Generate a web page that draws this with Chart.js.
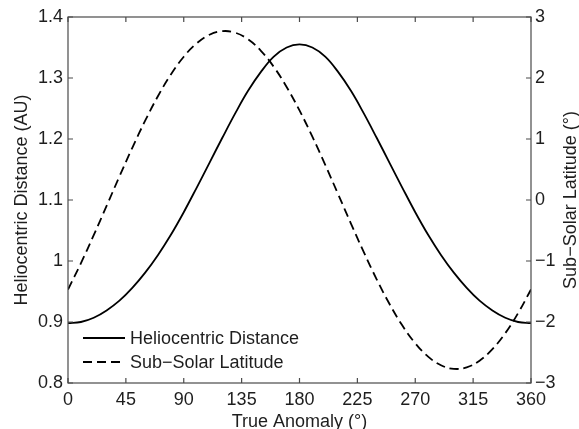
<!DOCTYPE html>
<html><head><meta charset="utf-8">
<script src="https://cdn.jsdelivr.net/npm/chart.js@4.4.1/dist/chart.umd.min.js"></script>
<style>html,body{margin:0;padding:0;background:#fff}#wrap{width:579px;height:429px;position:relative}</style>
</head><body><div id="wrap"><canvas id="c"></canvas></div>
<script>
// ---- data ----
const anomaly = [0,10,20,30,40,50,60,70,80,90,100,110,120,130,140,150,160,170,180,
                 190,200,210,220,230,240,250,260,270,280,290,300,310,320,330,340,350,360];
const distance = [0.898,0.900,0.907,0.919,0.935,0.956,0.981,1.010,1.043,1.080,1.120,1.161,1.202,1.242,1.279,1.310,1.335,1.350,1.355,
                  1.350,1.335,1.310,1.279,1.242,1.202,1.161,1.120,1.080,1.043,1.010,0.981,0.956,0.935,0.919,0.907,0.900,0.898];
const latitude = [-1.468,-1.038,-0.576,-0.097,0.386,0.856,1.300,1.705,2.059,2.349,2.568,2.709,2.768,2.743,2.634,2.446,2.183,1.853,1.468,
                  1.038,0.576,0.097,-0.386,-0.856,-1.300,-1.705,-2.059,-2.349,-2.568,-2.709,-2.768,-2.743,-2.634,-2.446,-2.183,-1.853,-1.468];
const xTicks = [0,45,90,135,180,225,270,315,360];
const xTickLabels = ['0','45','90','135','180','225','270','315','360'];
const leftTicks = [0.8,0.9,1,1.1,1.2,1.3,1.4];
const leftTickLabels = ['0.8','0.9','1','1.1','1.2','1.3','1.4'];
const rightTicks = [-3,-2,-1,0,1,2,3];
const rightTickLabels = ['\u22123','\u22122','\u22121','0','1','2','3'];
const seriesNames = ['Heliocentric Distance','Sub\u2212Solar Latitude'];
const xTitle = 'True Anomaly (\u00B0)';
const leftTitle = 'Heliocentric Distance (AU)';
const rightTitle = 'Sub\u2212Solar Latitude (\u00B0)';

// ---- styles ----
const FONT = "'Liberation Sans', Arial, sans-serif";
const TXT = '#1e1e1e';
const BOX = '#4a4a4a';
const FS = 18;

const frame = {
  id: 'frame',
  afterDraw(chart) {
    const {ctx, chartArea: a, scales} = chart;
    ctx.save();
    ctx.strokeStyle = BOX; ctx.lineWidth = 1.2;
    ctx.strokeRect(a.left, a.top, a.right - a.left, a.bottom - a.top);
    const L = 5;
    ctx.beginPath();
    scales.x.ticks.forEach(t => {
      const px = scales.x.getPixelForValue(t.value);
      ctx.moveTo(px, a.bottom); ctx.lineTo(px, a.bottom - L);
      ctx.moveTo(px, a.top); ctx.lineTo(px, a.top + L);
    });
    scales.y.ticks.forEach(t => {
      const py = scales.y.getPixelForValue(t.value);
      ctx.moveTo(a.left, py); ctx.lineTo(a.left + L, py);
    });
    scales.y2.ticks.forEach(t => {
      const py = scales.y2.getPixelForValue(t.value);
      ctx.moveTo(a.right, py); ctx.lineTo(a.right - L, py);
    });
    ctx.stroke();

    // right axis title (reads bottom-to-top)
    ctx.save();
    ctx.fillStyle = TXT;
    ctx.font = FS + 'px ' + FONT;
    ctx.translate(571, (a.top + a.bottom) / 2);
    ctx.rotate(-Math.PI / 2);
    ctx.textAlign = 'center'; ctx.textBaseline = 'middle';
    ctx.fillText(rightTitle, 0, 0);
    ctx.restore();

    // legend (no box), lower-left inside the plot
    const rows = [a.bottom - 45, a.bottom - 21];
    chart.data.datasets.forEach((ds, i) => {
      const y = rows[i];
      ctx.save();
      ctx.strokeStyle = ds.borderColor; ctx.lineWidth = ds.borderWidth;
      ctx.setLineDash(ds.borderDash || []);
      ctx.beginPath(); ctx.moveTo(a.left + 15, y); ctx.lineTo(a.left + 57, y); ctx.stroke();
      ctx.restore();
      ctx.fillStyle = TXT; ctx.font = FS + 'px ' + FONT;
      ctx.textAlign = 'left'; ctx.textBaseline = 'middle';
      ctx.fillText(ds.label, a.left + 62, y + 1);
    });
    ctx.restore();
  }
};

const tickFont = {family: FONT, size: FS};
new Chart(document.getElementById('c'), {
  type: 'line',
  data: {
    datasets: [
      {label: seriesNames[0], data: anomaly.map((v, i) => ({x: v, y: distance[i]})), yAxisID: 'y',
       borderColor: '#000', borderWidth: 1.8, pointRadius: 0, tension: 0.4, fill: false},
      {label: seriesNames[1], data: anomaly.map((v, i) => ({x: v, y: latitude[i]})), yAxisID: 'y2',
       borderColor: '#000', borderWidth: 1.8, borderDash: [9, 5], pointRadius: 0, tension: 0.4, fill: false}
    ]
  },
  options: {
    responsive: true, maintainAspectRatio: false, animation: false,
    layout: {padding: {top: 17, left: 0, right: 0, bottom: 0}},
    plugins: {legend: {display: false}, tooltip: {enabled: false}},
    scales: {
      x: {type: 'linear', position: 'bottom', min: 0, max: 360,
          afterBuildTicks: s => { s.ticks = xTicks.map(v => ({value: v})); },
          afterFit: s => { s.height = 46; },
          grid: {display: false, drawTicks: false}, border: {display: false},
          ticks: {padding: 6, color: TXT, font: tickFont, maxRotation: 0, autoSkip: false,
                  callback: (v, i) => xTickLabels[i]},
          title: {display: true, text: xTitle, color: TXT, font: {family: FONT, size: FS, lineHeight: 0.8},
                  padding: {top: 0, bottom: 0}}},
      y: {type: 'linear', position: 'left', min: 0.8, max: 1.4,
          afterBuildTicks: s => { s.ticks = leftTicks.map(v => ({value: v})); },
          afterFit: s => { s.width = 68; },
          grid: {display: false, drawTicks: false}, border: {display: false},
          ticks: {padding: 5, color: TXT, font: tickFont, autoSkip: false,
                  callback: (v, i) => leftTickLabels[i]},
          title: {display: true, text: leftTitle, color: TXT, font: {family: FONT, size: FS, lineHeight: 1},
                  padding: {top: 13, bottom: 0}}},
      y2: {type: 'linear', position: 'right', min: -3, max: 3,
          afterBuildTicks: s => { s.ticks = rightTicks.map(v => ({value: v})); },
          afterFit: s => { s.width = 48; },
          grid: {display: false, drawTicks: false}, border: {display: false},
          ticks: {padding: 4, color: TXT, font: tickFont, autoSkip: false,
                  callback: (v, i) => rightTickLabels[i]},
          title: {display: false}}
    }
  },
  plugins: [frame]
});
</script>
</body></html>
